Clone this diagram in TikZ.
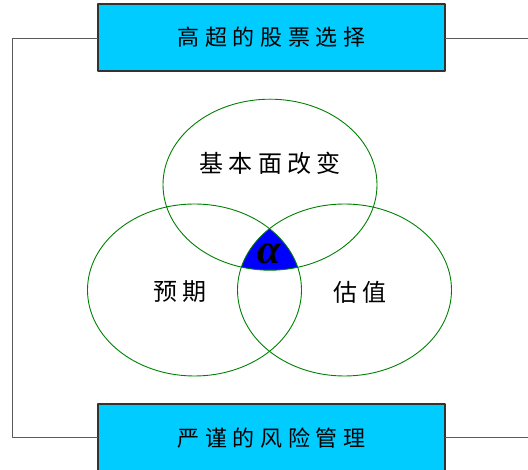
\documentclass[tikz,border=0pt]{standalone}
\usepackage{amsmath,amssymb}
\usepackage{fontspec}
\usepackage{tikz}
\newfontfamily\cjkbox[LetterSpace=26]{Noto Sans CJK SC}
\newfontfamily\cjkmid[LetterSpace=21]{Noto Sans CJK SC}
\newfontfamily\greekbold{Liberation Serif}
\definecolor{boxcyan}{RGB}{0,204,255}
\definecolor{ringgreen}{RGB}{0,128,0}
\definecolor{linegray}{RGB}{90,90,90}
\tikzset{
  goalbox/.style={draw=black!80,line width=1.2pt,fill=boxcyan,minimum width=347bp,minimum height=67bp,inner sep=0pt,font=\fontsize{22bp}{23bp}\cjkbox},
  ring/.style={color=ringgreen,line width=0.9pt},
  ringtext/.style={inner sep=0pt,font=\fontsize{24bp}{25bp}\cjkmid}
}
\begin{document}
\begin{tikzpicture}[line cap=round,line join=round,x=1bp,y=1bp]
\useasboundingbox (0,0) rectangle (528,470);
\begin{scope}
\clip (270,285.3) ellipse (107 and 85.5);
\clip (194.5,180) ellipse (107 and 86);
\fill[color=blue] (344.5,180) ellipse (107 and 86);
\end{scope}
\draw[ring] (270,285.3) ellipse (107 and 85.5);
\foreach \cx in {194.5,344.5}
\draw[ring] (\cx,180) ellipse (107 and 86);
\node[ringtext] (fund) at (270,307) {基本面改变};
\node[ringtext] (expect) at (180,178) {预期};
\node[ringtext] (value) at (360,178) {估值};
\node[inner sep=0pt,font=\fontsize{42bp}{42bp}\greekbold\bfseries\itshape] (alpha) at (269,216) {α};
\node[goalbox] (stock) at (271.5,432.5) {高超的股票选择};
\node[goalbox,minimum height=68bp] (risk) at (271.5,32) {严谨的风险管理};
\coordinate (lc) at (12,432);
\coordinate (rtop) at (528,432);
\coordinate (rbot) at (528,33);
\draw[color=linegray,line width=0.8pt] (stock.west |- lc) -- (lc) |- (risk.west |- rbot);
\draw[color=linegray,line width=0.8pt] (stock.east |- rtop) -- (rtop);
\draw[color=linegray,line width=0.8pt] (risk.east |- rbot) -- (rbot);
\end{tikzpicture}
\end{document}
